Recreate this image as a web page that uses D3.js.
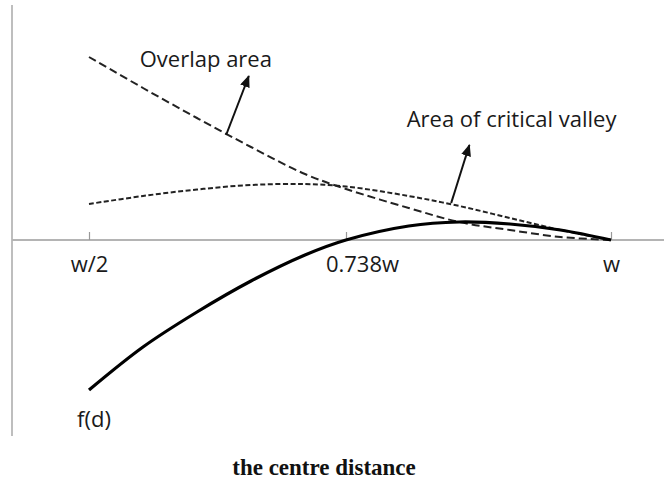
<!DOCTYPE html>
<html>
<head>
<meta charset="utf-8">
<script src="https://cdn.jsdelivr.net/npm/d3@7"></script>
<style>
  body { margin: 0; background: #fff; }
</style>
</head>
<body>
<div id="chart"></div>
<script>
const width = 664;
const height = 479;

// centre distance, as a fraction of w
const dist = [0.5, 0.55, 0.6, 0.65, 0.7, 0.738, 0.8, 0.85, 0.9, 0.95, 1];
const overlapArea = [1.83, 1.52, 1.22, 0.93, 0.66, 0.51, 0.32, 0.18, 0.10, 0.03, 0];
const valleyArea = [0.36, 0.44, 0.505, 0.55, 0.56, 0.535, 0.44, 0.34, 0.22, 0.10, 0];
const fd = [-1.50, -1.07, -0.72, -0.41, -0.15, 0, 0.14, 0.18, 0.16, 0.10, 0];

const tickValues = [0.5, 0.738, 1];
const tickLabels = ["w/2", "0.738w", "w"];

const svg = d3.select("#chart")
    .append("svg")
    .attr("width", width)
    .attr("height", height)
    .style("font-family", "'Open Sans', sans-serif");

const x = d3.scaleLinear()
    .domain([0.5, 0.738, 1])
    .range([89, 346, 611]);

const y = d3.scaleLinear()
    .domain([-2, 2])
    .range([440, 40]);

const axisX0 = 12;

// arrow head
svg.append("defs")
    .append("marker")
    .attr("id", "head")
    .attr("viewBox", "0 0 12 10")
    .attr("refX", 11)
    .attr("refY", 5)
    .attr("markerWidth", 12)
    .attr("markerHeight", 10)
    .attr("markerUnits", "userSpaceOnUse")
    .attr("orient", "auto")
    .append("path")
    .attr("d", "M0,0 L12,5 L0,10 Z")
    .attr("fill", "#111");

// y axis line
svg.append("line")
    .attr("x1", axisX0).attr("x2", axisX0)
    .attr("y1", y(2.35)).attr("y2", y(-1.96))
    .attr("stroke", "#a8a8a8")
    .attr("stroke-width", 1.5);

// x axis line, across the whole width
svg.append("line")
    .attr("x1", axisX0).attr("x2", width)
    .attr("y1", y(0)).attr("y2", y(0))
    .attr("stroke", "#b4b4b4")
    .attr("stroke-width", 2);

const xAxis = d3.axisBottom(x)
    .tickValues(tickValues)
    .tickFormat((d, i) => tickLabels[i])
    .tickSize(-8);

const axisG = svg.append("g")
    .attr("transform", `translate(0, ${y(0)})`)
    .call(xAxis);

axisG.select(".domain").remove();
axisG.selectAll("line")
    .attr("stroke", "#999")
    .attr("stroke-width", 1.2);
axisG.selectAll("text")
    .attr("y", 32)
    .attr("dy", null)
    .attr("dx", d => d === 0.738 ? 16 : 0)
    .attr("fill", "#1a1a1a")
    .attr("font-size", "22px")
    .attr("font-family", "'Open Sans', sans-serif");

const line = series => d3.line()
    .x((d, i) => x(dist[i]))
    .y(d => y(d))
    .curve(d3.curveCatmullRom.alpha(0.5))(series);

svg.append("path")
    .attr("d", line(overlapArea))
    .attr("fill", "none")
    .attr("stroke", "#222")
    .attr("stroke-width", 2)
    .attr("stroke-dasharray", "8,4");

svg.append("path")
    .attr("d", line(valleyArea))
    .attr("fill", "none")
    .attr("stroke", "#222")
    .attr("stroke-width", 2)
    .attr("stroke-dasharray", "5,2.5");

svg.append("path")
    .attr("d", line(fd))
    .attr("fill", "none")
    .attr("stroke", "#000")
    .attr("stroke-width", 3.2);

// annotation arrows (from curve to label)
const arrows = [
    { d0: 0.627, v0: 1.05, d1: 0.648, v1: 1.64 },
    { d0: 0.842, v0: 0.37, d1: 0.860, v1: 0.95 }
];

svg.selectAll(".arrow")
    .data(arrows)
    .enter()
    .append("line")
    .attr("class", "arrow")
    .attr("x1", d => x(d.d0)).attr("y1", d => y(d.v0))
    .attr("x2", d => x(d.d1)).attr("y2", d => y(d.v1))
    .attr("stroke", "#111")
    .attr("stroke-width", 2)
    .attr("marker-end", "url(#head)");

const labels = [
    { text: "Overlap area", d: 0.547, v: 1.73 },
    { text: "Area of critical valley", d: 0.798, v: 1.13 },
    { text: "f(d)", d: 0.489, v: -1.87 }
];

svg.selectAll(".label")
    .data(labels)
    .enter()
    .append("text")
    .attr("class", "label")
    .attr("x", d => x(d.d))
    .attr("y", d => y(d.v))
    .attr("fill", "#1a1a1a")
    .attr("font-size", "22px")
    .text(d => d.text);

svg.append("text")
    .attr("x", 324)
    .attr("y", 475)
    .attr("text-anchor", "middle")
    .attr("font-family", "'Liberation Serif', 'Times New Roman', serif")
    .attr("font-weight", "bold")
    .attr("font-size", "23px")
    .attr("fill", "#111")
    .text("the centre distance");
</script>
</body>
</html>
